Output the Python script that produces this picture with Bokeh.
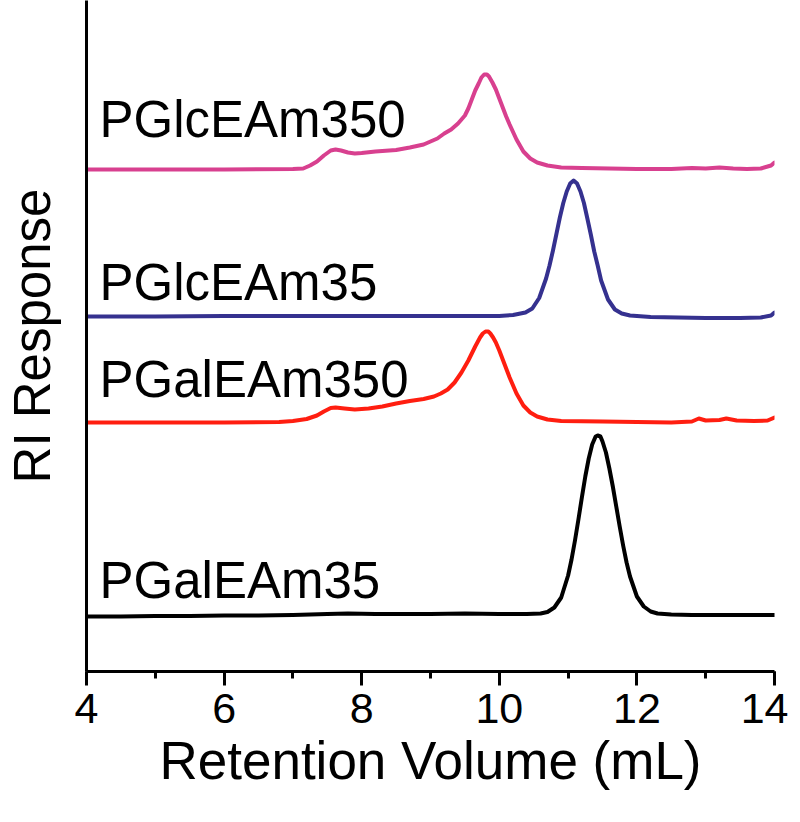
from bokeh.plotting import figure
from bokeh.models import Range1d, SingleIntervalTicker, ColumnDataSource
from bokeh.core.properties import value
from bokeh.embed import file_html
from bokeh.resources import INLINE

# ---------------- data ----------------
names = ["PGalEAm35", "PGalEAm350", "PGlcEAm35", "PGlcEAm350"]
colors = ["#000000", "#FF1E10", "#35318F", "#D8408F"]
offsets = [55, 249, 355, 502]          # vertical stacking offset of each trace

# PGalEAm35 (black)
x_gal35 = [4.0, 4.5, 5.0, 5.5, 6.0, 6.5, 7.0, 7.5, 7.8, 8.2, 8.6, 9.0, 9.5, 10.0,
           10.4, 10.6, 10.7, 10.8, 10.9, 11.0, 11.05, 11.1, 11.15, 11.2, 11.25, 11.3,
           11.35, 11.4, 11.43, 11.47, 11.5, 11.55, 11.6, 11.65, 11.7, 11.75, 11.8,
           11.85, 11.9, 12.0, 12.1, 12.2, 12.3, 12.5, 12.8, 13.2, 13.6, 14.0]
y_gal35 = [0, 0, 0.5, 0.5, 1, 1, 1.5, 2.5, 3, 2.5, 2.5, 2.5, 3, 2.5,
           2.5, 3, 4.5, 9, 19, 41, 57, 76, 97, 119, 140, 158,
           172, 180, 181, 180, 175, 164, 148, 130, 110, 90, 71,
           54, 40, 20, 10, 5, 3, 2, 1.5, 1.5, 1.5, 1.5]

# PGalEAm350 (red)
x_gal350 = [4.0, 5.0, 6.0, 6.8, 7.0, 7.2, 7.35, 7.45, 7.55, 7.62, 7.75, 7.9, 8.1, 8.3,
            8.5, 8.7, 8.9, 9.05, 9.15, 9.25, 9.35, 9.45, 9.5, 9.55, 9.6, 9.65, 9.72,
            9.76, 9.8, 9.84, 9.87, 9.91, 9.95, 10.0, 10.05, 10.1, 10.15, 10.25, 10.35,
            10.45, 10.55, 10.7, 10.9, 11.5, 12.0, 12.5, 12.8, 12.9, 13.0, 13.2, 13.3,
            13.45, 13.7, 13.9, 14.0]
y_gal350 = [0, 0, 0, 0.5, 1.5, 3.5, 7, 11, 14.5, 15, 14, 13, 14, 16,
            19, 21.5, 23.5, 26, 29, 33, 40, 50, 56, 62, 69, 76, 85,
            89, 91, 91, 89, 85, 80, 72, 63, 54, 45, 29, 17,
            10, 6, 3, 1.5, 1, 0.5, 0, 1, 4, 2, 2.5, 4,
            2, 1.5, 2, 5]

# PGlcEAm35 (blue)
x_glc35 = [4.0, 5.0, 6.0, 7.0, 8.0, 9.0, 10.0, 10.2, 10.38, 10.48, 10.58, 10.68, 10.73,
           10.78, 10.83, 10.88, 10.93, 10.98, 11.03, 11.08, 11.13, 11.18, 11.23, 11.28,
           11.33, 11.38, 11.43, 11.48, 11.58, 11.68, 11.78, 11.9, 12.2, 12.6, 13.0,
           13.5, 13.8, 13.95, 14.0]
y_glc35 = [0, 0, 0.5, 0.5, 0.5, 0.5, 0.5, 1.5, 4, 8, 18.5, 38, 51,
           66, 82.5, 99, 113.5, 125, 133, 136, 133, 125, 113.5, 98,
           82, 65, 51, 36, 17, 7, 3, 1, -0.5, -1, -1.5,
           -1.5, -1, 1, 4]

# PGlcEAm350 (magenta)
x_glc350 = [4.0, 5.0, 6.0, 7.0, 7.15, 7.25, 7.35, 7.45, 7.55, 7.62, 7.7, 7.8, 7.9, 8.0,
            8.2, 8.5, 8.7, 8.9, 9.0, 9.1, 9.2, 9.3, 9.4, 9.5, 9.55, 9.6, 9.65, 9.7,
            9.74, 9.78, 9.82, 9.85, 9.9, 9.95, 10.0, 10.05, 10.1, 10.15, 10.25, 10.35,
            10.45, 10.55, 10.7, 10.9, 11.2, 11.6, 12.0, 12.5, 12.8, 13.0, 13.2, 13.4,
            13.6, 13.8, 13.95, 14.0]
y_glc350 = [0, 0, 0, 0.5, 1, 4, 8, 14, 19, 20, 19, 17, 16, 16.5,
            18, 19.5, 22, 25, 28, 31, 36, 40, 46, 54, 61, 70, 79, 86,
            92, 95, 95, 93, 87, 80, 71, 62, 53, 45, 30, 18,
            11, 7, 4, 2, 1.5, 1, 0.5, 0.5, 1.5, 1, 2, 1,
            0.5, 1, 4, 7]

xs_all = [x_gal35, x_gal350, x_glc35, x_glc350]
ys_all = [y_gal35, y_gal350, y_glc35, y_glc350]

# trace labels (x in mL, y baseline in stacked units)
label_x = [4.19, 4.19, 4.19, 4.19]
label_y = [91, 292, 389, 552]

x_ticks_interval = 2
x_title = "Retention Volume (mL)"
y_title = "RI Response"

# ---------------- figure ----------------
p = figure(frame_width=688, frame_height=671,
           x_range=Range1d(4, 14), y_range=Range1d(0, 671),
           output_backend="svg", toolbar_location=None,
           min_border_left=82, min_border_right=14,
           min_border_top=0, min_border_bottom=127)
p.outline_line_color = None
p.grid.grid_line_color = None
p.background_fill_color = "white"
p.border_fill_color = "white"

for xs, ys, off, c in zip(xs_all, ys_all, offsets, colors):
    src = ColumnDataSource(dict(x=xs, y=[v + off for v in ys]))
    p.line("x", "y", source=src, line_color=c, line_width=4,
           line_join="round", line_cap="round")

p.text(x=label_x, y=label_y, text=names,
       text_font=value("Liberation Sans"), text_font_size="51px",
       text_color="black", text_baseline="alphabetic", text_align="left")

# x axis
xa = p.xaxis[0]
xa.ticker = SingleIntervalTicker(interval=x_ticks_interval, num_minor_ticks=2)
xa.axis_line_width = 3
xa.axis_line_color = "black"
xa.major_tick_line_width = 3
xa.minor_tick_line_width = 3
xa.major_tick_out = 14
xa.major_tick_in = 0
xa.minor_tick_out = 7
xa.minor_tick_in = 0
xa.major_label_text_font = "Liberation Sans"
xa.major_label_text_font_size = "43px"
xa.major_label_text_color = "black"
xa.major_label_standoff = 8
xa.axis_label = x_title
xa.axis_label_text_font = "Liberation Sans"
xa.axis_label_text_font_size = "53px"
xa.axis_label_text_font_style = "normal"
xa.axis_label_text_color = "black"
xa.axis_label_standoff = 5

# y axis
ya = p.yaxis[0]
ya.axis_line_width = 3
ya.axis_line_color = "black"
ya.major_tick_line_color = None
ya.minor_tick_line_color = None
ya.major_label_text_font_size = "0px"
ya.major_label_text_color = None
ya.axis_label = y_title
ya.axis_label_text_font = "Liberation Sans"
ya.axis_label_text_font_size = "51px"
ya.axis_label_text_font_style = "normal"
ya.axis_label_text_color = "black"
ya.axis_label_standoff = 20

open("out.html", "w").write(file_html(p, INLINE))
